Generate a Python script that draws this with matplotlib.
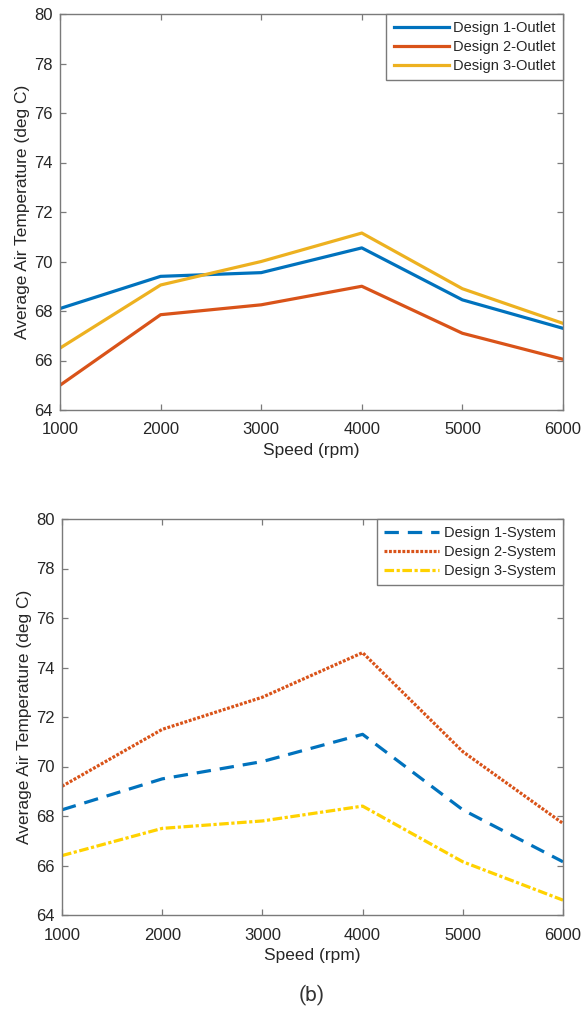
import matplotlib.pyplot as plt

plt.rcParams['font.family'] = ['Liberation Sans', 'DejaVu Sans']

speed = [1000, 2000, 3000, 4000, 5000, 6000]

outlet1 = [68.1, 69.4, 69.55, 70.55, 68.45, 67.3]
outlet2 = [65.0, 67.85, 68.25, 69.0, 67.1, 66.05]
outlet3 = [66.5, 69.05, 70.0, 71.15, 68.9, 67.5]

system1 = [68.25, 69.5, 70.2, 71.3, 68.25, 66.15]
system2 = [69.2, 71.5, 72.8, 74.6, 70.6, 67.7]
system3 = [66.4, 67.5, 67.8, 68.4, 66.15, 64.6]

blue = '#0072BD'
orange = '#D95319'
gold = '#EDB120'
yellow = '#FFD200'
txt = '#262626'
edge = '#7a7a7a'

fig = plt.figure(figsize=(5.82, 10.1), dpi=100)
# pixel boxes: top 60..563 x 14..410, bottom 62..563 x 519..915
ax1 = fig.add_axes([60 / 582, 1 - 410 / 1010, 503 / 582, 396 / 1010])
ax2 = fig.add_axes([62 / 582, 1 - 915 / 1010, 501 / 582, 396 / 1010])


def style(ax):
    ax.set_xlim(1000, 6000)
    ax.set_ylim(64, 80)
    ax.set_xticks(speed)
    ax.set_yticks(range(64, 81, 2))
    ax.tick_params(direction='in', top=True, right=True, length=4.5,
                   labelsize=12, labelcolor=txt, color=edge, width=0.9)
    ax.tick_params(axis='x', pad=9)
    ax.tick_params(axis='y', pad=5)
    for s in ax.spines.values():
        s.set_color(edge)
        s.set_linewidth(1.0)
    ax.set_xlabel('Speed (rpm)', fontsize=12.5, color=txt, labelpad=4)
    ax.set_ylabel('Average Air Temperature (deg C)', fontsize=12.5, color=txt, labelpad=3)
    leg = ax.legend(loc='upper right', fontsize=10.5, frameon=True, fancybox=False,
                    borderaxespad=0, handlelength=3.8, handletextpad=0.3,
                    labelspacing=0.32, borderpad=0.5, framealpha=1)
    leg.get_frame().set_edgecolor(edge)
    leg.get_frame().set_linewidth(1.0)
    for t in leg.get_texts():
        t.set_color(txt)


ax1.plot(speed, outlet1, color=blue, lw=2.3, label='Design 1-Outlet')
ax1.plot(speed, outlet2, color=orange, lw=2.3, label='Design 2-Outlet')
ax1.plot(speed, outlet3, color=gold, lw=2.3, label='Design 3-Outlet')
style(ax1)

ax2.plot(speed, system1, color=blue, lw=2.3, ls=(0, (4.5, 2.8)), label='Design 1-System')
ax2.plot(speed, system2, color=orange, lw=2.3, ls=(0, (0.9, 0.5)), label='Design 2-System')
ax2.plot(speed, system3, color=yellow, lw=2.3, ls=(0, (3, 0.8, 1, 0.8)), label='Design 3-System')
style(ax2)

fig.text(312 / 582, 1 - 995 / 1010, '(b)', fontsize=15, color='#333333', ha='center', va='center',
         family=['Roboto', 'DejaVu Sans'])

fig.savefig('out.png', dpi=100)
